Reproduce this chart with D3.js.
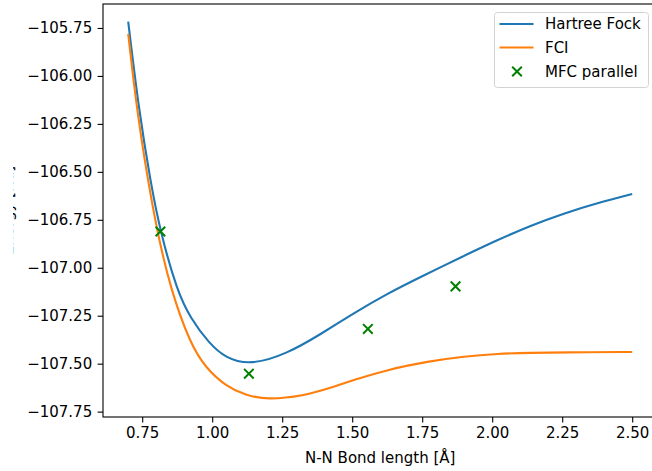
<!DOCTYPE html>
<html>
<head>
<meta charset="utf-8">
<script src="https://cdn.jsdelivr.net/npm/d3@7"></script>
<style>
  body { margin: 0; background: #fff; }
  text { font-family: "DejaVu Sans", sans-serif; }
</style>
</head>
<body>
<svg id="plot" width="652" height="471"></svg>
<script>
//data
let hf_x = [0.70, 0.738, 0.78, 0.815, 0.875, 0.922, 0.988, 1.048, 1.138, 1.268, 1.387, 1.506, 1.625, 1.744, 1.899, 2.018, 2.137, 2.256, 2.375, 2.50]
let hf_y = [-105.717, -106.177, -106.555, -106.815, -107.122, -107.262, -107.392, -107.472, -107.508, -107.448, -107.347, -107.236, -107.135, -107.048, -106.938, -106.856, -106.780, -106.716, -106.663, -106.615]

let fci_x = [0.70, 0.731, 0.768, 0.804, 0.851, 0.922, 0.976, 1.048, 1.120, 1.196, 1.327, 1.420, 1.506, 1.625, 1.780, 1.899, 2.018, 2.137, 2.256, 2.50]
let fci_y = [-105.781, -106.177, -106.524, -106.815, -107.110, -107.398, -107.520, -107.617, -107.665, -107.688, -107.668, -107.627, -107.585, -107.531, -107.486, -107.462, -107.448, -107.443, -107.441, -107.439]

let mfc_x = [0.815, 1.131, 1.556, 1.869]
let mfc_y = [-106.811, -107.552, -107.319, -107.097]

let x_ticks = [0.75, 1.00, 1.25, 1.50, 1.75, 2.00, 2.25, 2.50]
let y_ticks = [-105.75, -106.00, -106.25, -106.50, -106.75, -107.00, -107.25, -107.50, -107.75]

let series_names = ["Hartree Fock", "FCI", "MFC parallel"]

let svg = d3.select("#plot")

//plot bounds (the right spine falls just outside the picture)
let plot_left = 103, plot_top = 4, plot_right = 657.4, plot_bottom = 417
let font_size = 15
let tick_len = 5.4

let x_scale = d3.scaleLinear([0.61, 2.59], [plot_left, plot_right])
let y_scale = d3.scaleLinear([-107.778, -105.625], [plot_bottom, plot_top])

let hf = hf_x.map((x, i) => [x, hf_y[i]])
let fci = fci_x.map((x, i) => [x, fci_y[i]])
let mfc = mfc_x.map((x, i) => [x, mfc_y[i]])

//clip for the data area
svg.append("clipPath").attr("id", "clip")
  .append("rect")
  .attr("x", plot_left).attr("y", plot_top)
  .attr("width", plot_right - plot_left).attr("height", plot_bottom - plot_top)

//basis curve smooths out reading noise in the points
let line = d3.line()
  .x(d => x_scale(d[0]))
  .y(d => y_scale(d[1]))
  .curve(d3.curveBasis)

let gData = svg.append("g").attr("clip-path", "url(#clip)")

gData.append("path")
  .datum(hf)
  .attr("d", line)
  .attr("fill", "none")
  .attr("stroke", "#1f77b4")
  .attr("stroke-width", 2.1)

gData.append("path")
  .datum(fci)
  .attr("d", line)
  .attr("fill", "none")
  .attr("stroke", "#ff7f0e")
  .attr("stroke-width", 2.1)

let cross = d3.symbol().type(d3.symbolX).size(62)

gData.selectAll(".mfc")
  .data(mfc)
  .join("path")
  .attr("class", "mfc")
  .attr("transform", d => `translate(${x_scale(d[0])},${y_scale(d[1])})`)
  .attr("d", cross)
  .attr("fill", "none")
  .attr("stroke", "green")
  .attr("stroke-width", 2)

//axes
let xAxis = d3.axisBottom(x_scale)
  .tickValues(x_ticks)
  .tickFormat(d3.format(".2f"))
  .tickSize(tick_len)
  .tickPadding(tick_len)

let yAxis = d3.axisLeft(y_scale)
  .tickValues(y_ticks)
  .tickFormat(d3.format(".2f"))
  .tickSize(tick_len)
  .tickPadding(tick_len)

let x_ax = svg.append("g")
  .attr("transform", `translate(0,${plot_bottom})`)
  .call(xAxis)

let y_ax = svg.append("g")
  .attr("transform", `translate(${plot_left},0)`)
  .call(yAxis)

for (let ax of [x_ax, y_ax]) {
  ax.select(".domain").remove()
  ax.selectAll(".tick line").attr("stroke", "#000").attr("stroke-width", 1.1)
  ax.selectAll(".tick text")
    .attr("fill", "#000")
    .style("font-size", font_size + "px")
    .style("font-family", "DejaVu Sans")
}

//spines
svg.append("rect")
  .attr("x", plot_left).attr("y", plot_top)
  .attr("width", plot_right - plot_left).attr("height", plot_bottom - plot_top)
  .attr("fill", "none")
  .attr("stroke", "#000")
  .attr("stroke-width", 1.1)

//axis labels
svg.append("text")
  .attr("text-anchor", "middle")
  .attr("x", (plot_left + plot_right) / 2)
  .attr("y", 463)
  .style("font-size", font_size + "px")
  .text("N-N Bond length [Å]")

//y label is cut off at the left edge of the picture, only the descenders show
svg.append("clipPath").attr("id", "ylab_clip")
  .append("rect")
  .attr("x", 13).attr("y", 0)
  .attr("width", 20).attr("height", 471)

svg.append("g").attr("clip-path", "url(#ylab_clip)")
  .append("text")
  .attr("text-anchor", "middle")
  .attr("transform", `translate(12.5,${(plot_top + plot_bottom) / 2}) rotate(-90)`)
  .style("font-size", font_size + "px")
  .text("Energy [Ha]")

//legend
let leg = svg.append("g").attr("transform", "translate(494.5,12.5)")

leg.append("rect")
  .attr("width", 154)
  .attr("height", 75)
  .attr("rx", 3)
  .attr("fill", "#fff")
  .attr("fill-opacity", 0.8)
  .attr("stroke", "#d3d3d3")
  .attr("stroke-width", 1)

let leg_colors = ["#1f77b4", "#ff7f0e", "green"]
let row_y = [11.5, 35, 59]

series_names.forEach((name, i) => {
  if (i < 2) {
    leg.append("line")
      .attr("x1", 5).attr("x2", 39)
      .attr("y1", row_y[i]).attr("y2", row_y[i])
      .attr("stroke", leg_colors[i])
      .attr("stroke-width", 2.1)
  } else {
    leg.append("path")
      .attr("transform", `translate(22.5,${row_y[i]})`)
      .attr("d", cross)
      .attr("fill", "none")
      .attr("stroke", leg_colors[i])
      .attr("stroke-width", 2)
  }
  leg.append("text")
    .attr("x", 50.5)
    .attr("y", row_y[i])
    .attr("dy", "0.36em")
    .style("font-size", font_size + "px")
    .text(name)
})
</script>
</body>
</html>
